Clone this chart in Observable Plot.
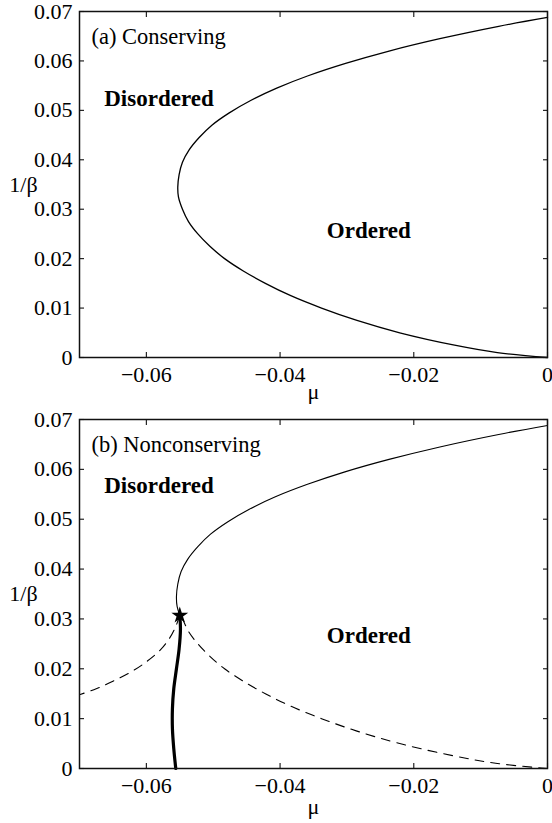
<!DOCTYPE html>
<html><head><meta charset="utf-8">
<script src="https://cdn.jsdelivr.net/npm/d3@7"></script>
<script src="https://cdn.jsdelivr.net/npm/@observablehq/plot@0.6"></script>
<style>
html,body{margin:0;padding:0;background:#fff;}
#chart svg{display:block;overflow:visible;}
#chart svg, #chart svg text{font-family:"Liberation Serif","Times New Roman",serif !important;}
</style></head><body><div id="chart"></div>
<script>
// ---- data ----
const xDomain = [-0.07, 0];
const yDomain = [0, 0.07];
const xTicks = [-0.06, -0.04, -0.02, 0];
const yTicks = [0, 0.01, 0.02, 0.03, 0.04, 0.05, 0.06, 0.07];

// panel (a): conserving phase boundary (lower branch, then upper branch)
const aInvBeta = [0, 0.001, 0.0025, 0.005, 0.0075, 0.010, 0.0125, 0.015, 0.0175, 0.020, 0.0225, 0.025, 0.0275, 0.030, 0.0325, 0.0345, 0.037, 0.0395, 0.042, 0.0445, 0.047, 0.0495, 0.052, 0.0545, 0.057, 0.0595, 0.062, 0.0645, 0.067, 0.0688];
const aMu      = [0, -0.0075, -0.0139, -0.0221, -0.0285, -0.0338, -0.0384, -0.0422, -0.0455, -0.0483, -0.0505, -0.0523, -0.0537, -0.0546, -0.0552, -0.0553, -0.0551, -0.0546, -0.0536, -0.0521, -0.0502, -0.0476, -0.0444, -0.0405, -0.0358, -0.0302, -0.0237, -0.0161, -0.0073, 0];

// panel (b): nonconserving
const bUpperInvBeta = [0.0307, 0.0325, 0.0345, 0.037, 0.0395, 0.042, 0.0445, 0.047, 0.0495, 0.052, 0.0545, 0.057, 0.0595, 0.062, 0.0645, 0.067, 0.0688];
const bUpperMu      = [-0.0550, -0.0554, -0.0555, -0.0553, -0.0548, -0.0538, -0.0523, -0.0504, -0.0478, -0.0446, -0.0407, -0.0359, -0.0303, -0.0237, -0.0161, -0.0073, 0];
const bRightInvBeta = [0, 0.001, 0.0025, 0.005, 0.0075, 0.010, 0.0125, 0.015, 0.0175, 0.020, 0.0225, 0.025, 0.0275, 0.030, 0.0307];
const bRightMu      = [0, -0.0075, -0.0139, -0.0221, -0.0285, -0.0338, -0.0384, -0.0422, -0.0455, -0.0483, -0.0505, -0.0523, -0.0537, -0.0546, -0.0550];
const bLeftInvBeta  = [0.0307, 0.0285, 0.0262, 0.0238, 0.0216, 0.0196, 0.0175, 0.0160, 0.0148];
const bLeftMu       = [-0.0550, -0.0556, -0.0565, -0.0579, -0.0598, -0.0620, -0.0650, -0.0675, -0.0700];
const bThickInvBeta = [0.0307, 0.028, 0.024, 0.020, 0.016, 0.012, 0.008, 0.004, 0];
const bThickMu      = [-0.0550, -0.0549, -0.0551, -0.0555, -0.0559, -0.0561, -0.0561, -0.0559, -0.0556];
const starMu = [-0.0550];
const starInvBeta = [0.0307];

const panelTitles = ["(a) Conserving", "(b) Nonconserving"];
const phaseNames = ["Disordered", "Ordered"];
const aPhaseMu = [-0.0663, -0.0330];
const aPhaseInvBeta = [0.0523, 0.0257];
const bPhaseMu = [-0.0663, -0.0330];
const bPhaseInvBeta = [0.0567, 0.0266];
const yLabelText = "1/β";
const yLabelPos = 0.035;
const xLabelText = "μ";

const zip = (xs, ys) => xs.map((x, i) => ({mu: x, ib: ys[i]}));

const fx = d => d === 0 ? "0" : "\u2212" + Math.abs(d).toFixed(2);
const fy = d => d === 0 ? "0" : d.toFixed(2);

function panel({height, marginTop, marginBottom, title, curves, phases, stars, muDy}) {
  const tickOpts = {tickSize: 5, inset: 5, fill: "none", label: null, stroke: "#111", strokeWidth: 1.1};
  return Plot.plot({
    width: 552, height, marginLeft: 79, marginRight: 5, marginTop, marginBottom,
    style: {fontFamily: "Liberation Serif", fontSize: "22px", color: "#000", background: "#fff", overflow: "visible"},
    x: {domain: xDomain},
    y: {domain: yDomain},
    marks: [
      Plot.axisX(xTicks, {anchor: "bottom", ...tickOpts}),
      Plot.axisX(xTicks, {anchor: "top", ...tickOpts}),
      Plot.axisY(yTicks, {anchor: "left", ...tickOpts}),
      Plot.axisY(yTicks, {anchor: "right", ...tickOpts}),
      Plot.axisX(xTicks, {anchor: "bottom", tickSize: 0, tickPadding: 9, tickFormat: fx, label: null, fontSize: 22}),
      Plot.axisY(yTicks, {anchor: "left", tickSize: 0, tickPadding: 7, tickFormat: fy, label: null, fontSize: 22}),
      ...curves.map(c => Plot.line(c.data, {x: "mu", y: "ib", stroke: "#000", strokeWidth: c.w, strokeDasharray: c.dash, curve: "catmull-rom"})),
      ...(stars ? [Plot.dot(stars, {x: "mu", y: "ib", symbol: "star", r: 5.3, fill: "#000", stroke: "none"})] : []),
      Plot.text(phases, {x: "mu", y: "ib", text: "name", textAnchor: "start", fontWeight: "bold", fontSize: 23}),
      Plot.text([title], {frameAnchor: "top-left", dx: 12, dy: 17, textAnchor: "start", fontSize: 22.5}),
      Plot.text([yLabelText], {frameAnchor: "left", y: () => yLabelPos, dx: -56, textAnchor: "middle", fontSize: 22}),
      Plot.text([xLabelText], {frameAnchor: "bottom", dy: muDy, textAnchor: "middle", fontSize: 22}),
      Plot.frame({stroke: "#111", strokeWidth: 1.5})
    ]
  });
}

const chart = document.getElementById("chart");
chart.append(panel({
  height: 411, marginTop: 11, marginBottom: 54, title: panelTitles[0], muDy: 41,
  curves: [{data: zip(aMu, aInvBeta), w: 1.3}],
  phases: phaseNames.map((n, i) => ({name: n, mu: aPhaseMu[i], ib: aPhaseInvBeta[i]}))
}));
chart.append(panel({
  height: 412, marginTop: 8, marginBottom: 55, title: panelTitles[1], muDy: 45,
  curves: [
    {data: zip(bUpperMu, bUpperInvBeta), w: 1.1},
    {data: zip(bRightMu, bRightInvBeta), w: 1.1, dash: "9,7"},
    {data: zip(bLeftMu, bLeftInvBeta), w: 1.1, dash: "9,7"},
    {data: zip(bThickMu, bThickInvBeta), w: 3.2}
  ],
  stars: zip(starMu, starInvBeta),
  phases: phaseNames.map((n, i) => ({name: n, mu: bPhaseMu[i], ib: bPhaseInvBeta[i]}))
}));
</script></body></html>
